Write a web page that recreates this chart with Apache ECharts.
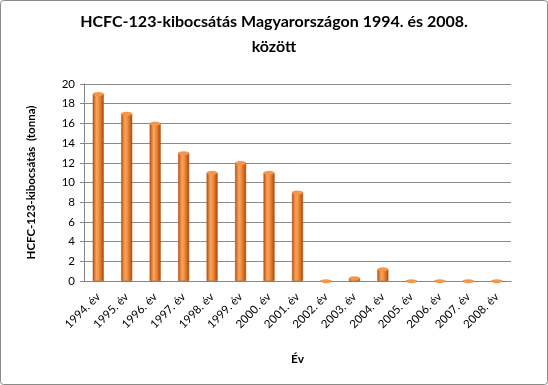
<!DOCTYPE html>
<html><head><meta charset="utf-8">
<script src="https://cdn.jsdelivr.net/npm/echarts@6/dist/echarts.min.js"></script>
<style>html,body{margin:0;padding:0;background:#fff}#c{width:548px;height:385px}</style>
</head><body><div id="c"></div>
<script>
var categories = ['1994. év','1995. év','1996. év','1997. év','1998. év','1999. év','2000. év','2001. év','2002. év','2003. év','2004. év','2005. év','2006. év','2007. év','2008. év'];
var emissions = [19, 17, 16, 13, 11, 12, 11, 9, 0, 0.3, 1.2, 0, 0, 0, 0];
var yTicks = [0, 2, 4, 6, 8, 10, 12, 14, 16, 18, 20];

var chart = echarts.init(document.getElementById('c'));
var font = 'Lato';
var barGrad = new echarts.graphic.LinearGradient(0,0,1,0,[
  {offset:0,color:'#B9520B'},{offset:0.35,color:'#F9A55E'},{offset:0.6,color:'#F08A38'},{offset:1,color:'#A9480A'}]);
chart.setOption({
  animation:false,
  graphic:[{type:'rect',shape:{x:0.5,y:0.5,width:547,height:384,r:3},style:{fill:'none',stroke:'#8a8a8a',lineWidth:1}}],
  title:{text:'HCFC-123-kibocsátás Magyarországon 1994. és 2008.\nközött',left:'center',top:4,padding:[5,26,5,0],
    textStyle:{fontFamily:font,fontWeight:'bold',fontSize:16,color:'#000',lineHeight:25}},
  grid:{left:84,right:37,top:84,bottom:104},
  xAxis:{type:'category',data:categories,
    name:'Év',nameLocation:'middle',nameGap:72,
    nameTextStyle:{fontFamily:font,fontWeight:'bold',fontSize:12,color:'#000'},
    axisLine:{lineStyle:{color:'#868686'}},axisTick:{show:false},
    axisLabel:{rotate:45,fontFamily:font,fontSize:11.5,color:'#000',margin:14,interval:0}},
  yAxis:{type:'value',min:yTicks[0],max:yTicks[yTicks.length-1],interval:2,
    name:'HCFC-123-kibocsátás  (tonna)',nameLocation:'middle',nameGap:47,
    nameTextStyle:{fontFamily:font,fontWeight:'bold',fontSize:11.5,color:'#000'},
    axisLine:{show:true,lineStyle:{color:'#868686'}},axisTick:{show:true,length:4,lineStyle:{color:'#868686'}},
    axisLabel:{fontFamily:font,fontSize:11.5,color:'#000',margin:9},
    splitLine:{lineStyle:{color:'#8c8c8c'}}},
  series:[
    {type:'bar',data:emissions,barWidth:11,itemStyle:{color:barGrad,borderColor:'#A9480A',borderWidth:0.5},z:2},
    {type:'pictorialBar',data:emissions,symbol:'circle',symbolSize:[11,4],symbolPosition:'end',symbolOffset:[0,'-50%'],
      itemStyle:{color:'#F79646',borderColor:'#B9520B',borderWidth:0.6},z:3}
  ]
});
</script></body></html>
